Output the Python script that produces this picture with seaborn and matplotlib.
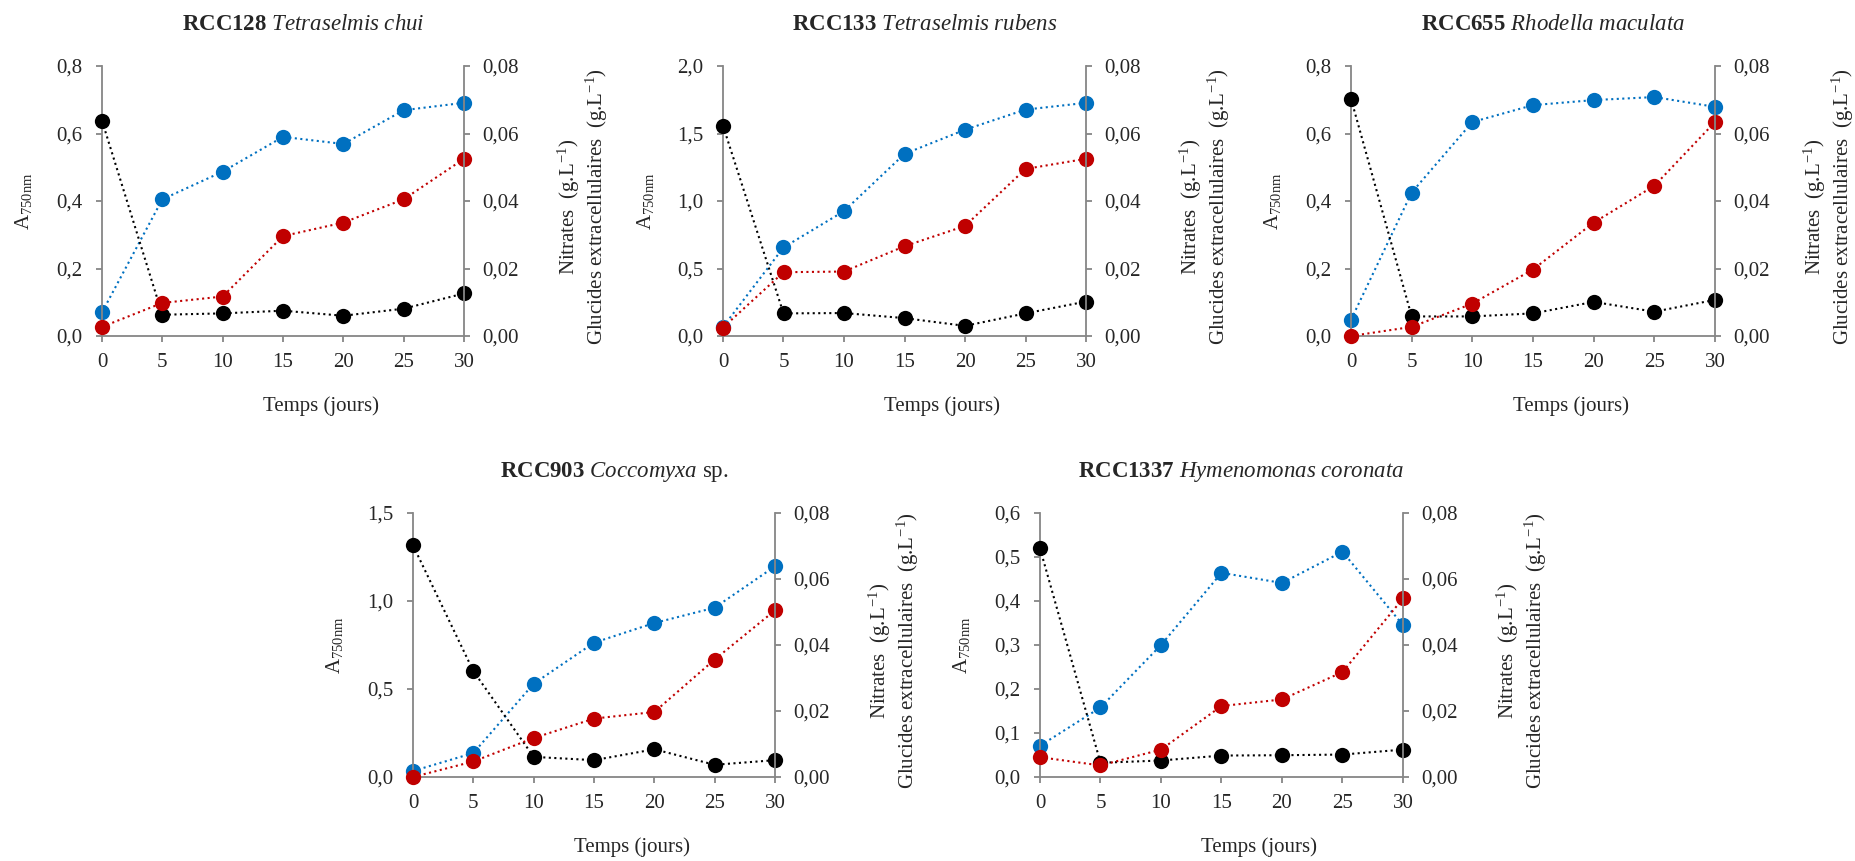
import seaborn as sns
import matplotlib.pyplot as plt
from matplotlib.ticker import FuncFormatter

# sampling days
days = [0, 5, 10, 15, 20, 25, 30]

# A750nm (left axis), nitrates and extracellular sugars in g/L (right axis)
a750_rcc128 = [0.070, 0.405, 0.487, 0.590, 0.569, 0.669, 0.691]
nitrates_rcc128 = [0.0638, 0.0063, 0.0067, 0.0075, 0.0060, 0.0081, 0.0126]
glucides_rcc128 = [0.0027, 0.0098, 0.0117, 0.0296, 0.0336, 0.0405, 0.0525]

a750_rcc133 = [0.067, 0.656, 0.925, 1.349, 1.528, 1.677, 1.727]
nitrates_rcc133 = [0.0623, 0.0067, 0.0068, 0.0053, 0.0030, 0.0067, 0.0102]
glucides_rcc133 = [0.0025, 0.0189, 0.0191, 0.0266, 0.0326, 0.0495, 0.0525]

a750_rcc655 = [0.048, 0.425, 0.634, 0.684, 0.699, 0.708, 0.679]
nitrates_rcc655 = [0.0703, 0.0058, 0.0058, 0.0067, 0.0101, 0.0072, 0.0107]
glucides_rcc655 = [0.0000, 0.0027, 0.0096, 0.0197, 0.0336, 0.0445, 0.0634]

a750_rcc903 = [0.034, 0.136, 0.530, 0.763, 0.875, 0.962, 1.197]
nitrates_rcc903 = [0.0702, 0.0321, 0.0061, 0.0051, 0.0084, 0.0037, 0.0051]
glucides_rcc903 = [0.0000, 0.0047, 0.0118, 0.0177, 0.0197, 0.0356, 0.0505]

a750_rcc1337 = [0.071, 0.158, 0.300, 0.464, 0.441, 0.512, 0.345]
nitrates_rcc1337 = [0.0693, 0.0043, 0.0050, 0.0065, 0.0066, 0.0068, 0.0083]
glucides_rcc1337 = [0.0060, 0.0035, 0.0083, 0.0215, 0.0235, 0.0318, 0.0541]

titles = [r"$\mathbf{RCC128}$ $\mathit{Tetraselmis\ chui}$",
          r"$\mathbf{RCC133}$ $\mathit{Tetraselmis\ rubens}$",
          r"$\mathbf{RCC655}$ $\mathit{Rhodella\ maculata}$",
          r"$\mathbf{RCC903}$ $\mathit{Coccomyxa}$ sp.",
          r"$\mathbf{RCC1337}$ $\mathit{Hymenomonas\ coronata}$"]
left_ticks = [[0, 0.2, 0.4, 0.6, 0.8],
              [0, 0.5, 1.0, 1.5, 2.0],
              [0, 0.2, 0.4, 0.6, 0.8],
              [0, 0.5, 1.0, 1.5],
              [0, 0.1, 0.2, 0.3, 0.4, 0.5, 0.6]]
right_ticks = [0, 0.02, 0.04, 0.06, 0.08]

series = [(a750_rcc128, nitrates_rcc128, glucides_rcc128),
          (a750_rcc133, nitrates_rcc133, glucides_rcc133),
          (a750_rcc655, nitrates_rcc655, glucides_rcc655),
          (a750_rcc903, nitrates_rcc903, glucides_rcc903),
          (a750_rcc1337, nitrates_rcc1337, glucides_rcc1337)]

# layout in pixels: left, width, top, bottom, offset of the right label
boxes = [(102, 362, 66, 336, 119), (723, 363, 66, 336, 119),
         (1351, 364, 66, 336, 114),
         (413, 362, 513, 777, 119), (1040, 363, 513, 777, 119)]

sns.set_style("white")
plt.rcParams["font.family"] = ["Liberation Serif", "DejaVu Serif"]
plt.rcParams["mathtext.fontset"] = "custom"
plt.rcParams["mathtext.rm"] = "Liberation Serif"
plt.rcParams["mathtext.it"] = "Liberation Serif:italic"
plt.rcParams["mathtext.bf"] = "Liberation Serif:bold"

W, H = 1856, 861
fig = plt.figure(figsize=(W / 100, H / 100), dpi=100)

BLUE, RED, BLACK, GREY = "#0070C0", "#C00000", "#000000", "#868686"
fs = 15
comma1 = FuncFormatter(lambda v, p: f"{v:.1f}".replace(".", ","))
comma2 = FuncFormatter(lambda v, p: f"{v:.2f}".replace(".", ","))
style = dict(marker="o", markersize=11, markeredgewidth=0, linestyle=":",
             linewidth=1.5, clip_on=False)

for (l, w, t, b, roff), title, lt, (a750, nit, glu) in zip(boxes, titles, left_ticks, series):
    ax = fig.add_axes([l / W, 1 - b / H, w / W, (b - t) / H])
    ax2 = ax.twinx()

    sns.lineplot(x=days, y=a750, ax=ax, color=BLUE, **style)
    sns.lineplot(x=days, y=nit, ax=ax2, color=BLACK, **style)
    sns.lineplot(x=days, y=glu, ax=ax2, color=RED, **style)

    ax.set_xlim(0, 30)
    ax.set_xticks(days)
    ax.set_ylim(0, lt[-1])
    ax.set_yticks(lt)
    ax.yaxis.set_major_formatter(comma1)
    ax2.set_ylim(0, 0.08)
    ax2.set_yticks(right_ticks)
    ax2.yaxis.set_major_formatter(comma2)

    for a in (ax, ax2):
        a.set_xlabel("")
        a.set_ylabel("")
        for s in a.spines.values():
            s.set_visible(False)
            s.set_color(GREY)
            s.set_linewidth(1.3)
    ax.spines["left"].set_visible(True)
    ax.spines["bottom"].set_visible(True)
    ax2.spines["right"].set_visible(True)

    ax.tick_params(axis="x", direction="out", length=4, width=1.3, color=GREY,
                   labelsize=fs, pad=8, bottom=True)
    ax.tick_params(axis="y", direction="out", length=4, width=1.3, color=GREY,
                   labelsize=fs, pad=10, left=True)
    ax2.tick_params(axis="y", direction="out", length=4, width=1.3, color=GREY,
                    labelsize=fs, pad=9, right=True)

    cx = l + w / 2
    fig.text((cx + 20) / W, 1 - (t - 41) / H, title, ha="center", va="center",
             fontsize=16.5)
    fig.text((cx + 38) / W, 1 - (b + 70) / H, "Temps (jours)", ha="center",
             va="center", fontsize=fs)
    fig.text((l - 78) / W, 1 - ((t + b) / 2) / H, r"A$_{\mathrm{750nm}}$",
             ha="center", va="center", rotation=90, fontsize=fs)
    fig.text((l + w + roff) / W, 1 - ((t + b) / 2 + 6) / H,
             "Nitrates  (g.L$^{-1}$)\nGlucides extracellulaires  (g.L$^{-1}$)",
             ha="center", va="center", rotation=90, fontsize=fs,
             multialignment="center", linespacing=1.1)

fig.savefig("out.png", dpi=100)
